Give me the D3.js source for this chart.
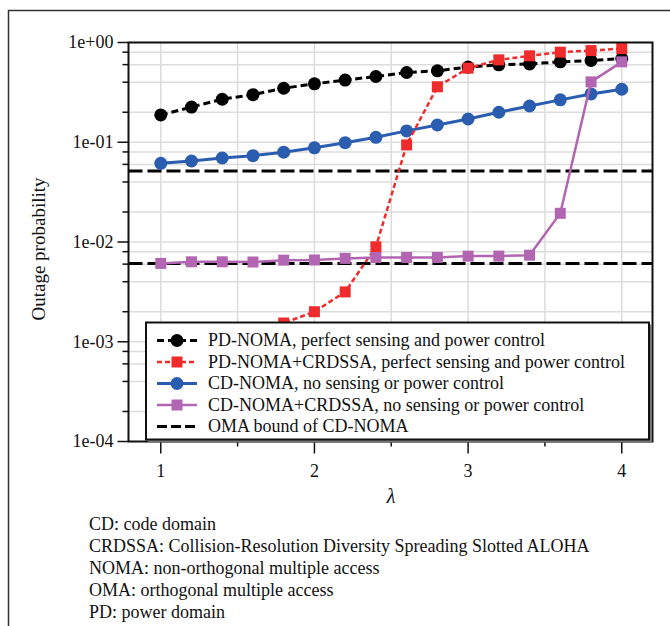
<!DOCTYPE html>
<html>
<head>
<meta charset="utf-8">
<script src="https://cdn.jsdelivr.net/npm/d3@7"></script>
<style>
  body { margin: 0; background: #fff; }
  text { font-family: "Liberation Serif", "DejaVu Serif", serif; fill: #111; }
</style>
</head>
<body>
<div id="chart"></div>
<script>
// x values (lambda)
var lambda = [1.0, 1.2, 1.4, 1.6, 1.8, 2.0, 2.2, 2.4, 2.6, 2.8, 3.0, 3.2, 3.4, 3.6, 3.8, 4.0];

// outage probability per series
var pdNoma = [0.188, 0.225, 0.27, 0.30, 0.348, 0.385, 0.42, 0.456, 0.50, 0.52, 0.567, 0.597, 0.61, 0.64, 0.66, 0.69];
var pdNomaCrdssa = [0.00045, 0.00058, 0.00075, 0.001, 0.00154, 0.002, 0.00316, 0.00895, 0.094, 0.36, 0.553, 0.67, 0.735, 0.80, 0.83, 0.87];
var cdNoma = [0.0615, 0.0649, 0.0695, 0.0734, 0.0795, 0.0880, 0.099, 0.112, 0.130, 0.149, 0.171, 0.200, 0.231, 0.266, 0.305, 0.340];
var cdNomaCrdssa = [0.0061, 0.00633, 0.00633, 0.0063, 0.00658, 0.0066, 0.00685, 0.0070, 0.0070, 0.0070, 0.00722, 0.00722, 0.00738, 0.0194, 0.403, 0.64];

// OMA bounds (horizontal lines)
var omaBounds = [0.0515, 0.0061];

var seriesNames = [
    'PD-NOMA, perfect sensing and power control',
    'PD-NOMA+CRDSSA, perfect sensing and power control',
    'CD-NOMA, no sensing or power control',
    'CD-NOMA+CRDSSA, no sensing or power control',
    'OMA bound of CD-NOMA'
];

// tick values and labels
var xTicks = [1, 2, 3, 4];
var xMinorTicks = [1.5, 2.5, 3.5];
var xGrid = [1, 1.5, 2, 2.5, 3, 3.5, 4];
var yTicks = [1e-4, 1e-3, 1e-2, 1e-1, 1];
var yTickLabels = ['1e-04', '1e-03', '1e-02', '1e-01', '1e+00'];
var yMinorMult = [2, 4, 6, 8];

var notes = [
    'CD: code domain',
    'CRDSSA: Collision-Resolution Diversity Spreading Slotted ALOHA',
    'NOMA: non-orthogonal multiple access',
    'OMA: orthogonal multiple access',
    'PD: power domain'
];

var width = 670, height = 626,
    plot = {left: 128.5, right: 652.5, top: 42.5, bottom: 441.5};

var svg = d3.select('#chart').append('svg')
    .attr('width', width)
    .attr('height', height);

// outer frame (top and left only)
svg.append('path')
    .attr('d', 'M8.5,626 L8.5,10.5 L670,10.5')
    .attr('fill', 'none')
    .attr('stroke', '#333')
    .attr('stroke-width', 1.5);

var x = d3.scaleLinear().domain([0.79, 4.2]).range([plot.left, plot.right]);
var y = d3.scaleLog().domain([1e-4, 1]).range([plot.bottom, plot.top]);

// minor y values
var yMinor = [];
yTicks.slice(0, -1).forEach(function (d) {
    yMinorMult.forEach(function (m) { yMinor.push(d * m); });
});

// grid
var grid = svg.append('g').attr('stroke', '#dcdcdc').attr('stroke-width', 1.5);
grid.selectAll('.gx').data(xGrid).enter().append('line')
    .attr('x1', function (d) { return x(d); })
    .attr('x2', function (d) { return x(d); })
    .attr('y1', plot.top).attr('y2', plot.bottom);
grid.selectAll('.gy').data(yTicks.concat(yMinor)).enter().append('line')
    .attr('y1', function (d) { return y(d); })
    .attr('y2', function (d) { return y(d); })
    .attr('x1', plot.left).attr('x2', plot.right);

// clip for data
svg.append('clipPath').attr('id', 'clip')
    .append('rect')
    .attr('x', plot.left).attr('y', plot.top)
    .attr('width', plot.right - plot.left).attr('height', plot.bottom - plot.top);

var data = svg.append('g').attr('clip-path', 'url(#clip)');

// OMA bounds
data.selectAll('.oma').data(omaBounds).enter().append('line')
    .attr('x1', plot.left).attr('x2', plot.right)
    .attr('y1', function (d) { return y(d); })
    .attr('y2', function (d) { return y(d); })
    .attr('stroke', '#000')
    .attr('stroke-width', 3)
    .attr('stroke-dasharray', '14,5');

var styles = [
    {values: pdNoma, color: '#000000', dash: '7,4', lw: 3, shape: 'circle'},
    {values: cdNoma, color: '#2a5db0', dash: null, lw: 3, shape: 'circle'},
    {values: pdNomaCrdssa, color: '#ef2b2b', dash: '5,3', lw: 2.5, shape: 'square'},
    {values: cdNomaCrdssa, color: '#b266b2', dash: null, lw: 2.5, shape: 'square'}
];

var line = d3.line()
    .x(function (d) { return x(d[0]); })
    .y(function (d) { return y(d[1]); });

function drawMarker(g, shape, color, cx, cy) {
    if (shape === 'circle') {
        g.append('circle').attr('cx', cx).attr('cy', cy).attr('r', 6.5).attr('fill', color);
    } else {
        g.append('rect').attr('x', cx - 5.5).attr('y', cy - 5.5)
            .attr('width', 11).attr('height', 11).attr('fill', color);
    }
}

styles.forEach(function (s) {
    var pts = lambda.map(function (l, i) { return [l, s.values[i]]; });
    var g = data.append('g');
    g.append('path')
        .attr('d', line(pts))
        .attr('fill', 'none')
        .attr('stroke', s.color)
        .attr('stroke-width', s.lw)
        .attr('stroke-dasharray', s.dash);
    pts.forEach(function (p) {
        drawMarker(g, s.shape, s.color, x(p[0]), y(p[1]));
    });
});

// plot box
svg.append('rect')
    .attr('x', plot.left).attr('y', plot.top)
    .attr('width', plot.right - plot.left).attr('height', plot.bottom - plot.top)
    .attr('fill', 'none').attr('stroke', '#111').attr('stroke-width', 2);

// y axis ticks
var yAxis = svg.append('g').attr('stroke', '#111').attr('stroke-width', 1.5);
yAxis.selectAll('.ymaj').data(yTicks).enter().append('line')
    .attr('x1', plot.left - 11).attr('x2', plot.left)
    .attr('y1', function (d) { return y(d); })
    .attr('y2', function (d) { return y(d); });
yAxis.selectAll('.ymin').data(yMinor).enter().append('line')
    .attr('x1', plot.left - 6).attr('x2', plot.left)
    .attr('y1', function (d) { return y(d); })
    .attr('y2', function (d) { return y(d); });

svg.selectAll('.ylab').data(yTicks).enter().append('text')
    .attr('x', plot.left - 15)
    .attr('y', function (d) { return y(d); })
    .attr('dy', '0.33em')
    .attr('text-anchor', 'end')
    .attr('font-size', 18)
    .text(function (d, i) { return yTickLabels[i]; });

// x axis ticks
var xAxis = svg.append('g').attr('stroke', '#111').attr('stroke-width', 1.5);
xAxis.selectAll('.xmaj').data(xTicks).enter().append('line')
    .attr('x1', function (d) { return x(d); })
    .attr('x2', function (d) { return x(d); })
    .attr('y1', plot.bottom).attr('y2', plot.bottom + 12);
xAxis.selectAll('.xmin').data(xMinorTicks).enter().append('line')
    .attr('x1', function (d) { return x(d); })
    .attr('x2', function (d) { return x(d); })
    .attr('y1', plot.bottom).attr('y2', plot.bottom + 5);

svg.selectAll('.xlab').data(xTicks).enter().append('text')
    .attr('x', function (d) { return x(d); })
    .attr('y', 477)
    .attr('text-anchor', 'middle')
    .attr('font-size', 18)
    .text(function (d) { return d; });

// axis titles
svg.append('text')
    .attr('x', 391).attr('y', 503)
    .attr('text-anchor', 'middle')
    .attr('font-size', 20)
    .attr('font-style', 'italic')
    .text('λ');

svg.append('text')
    .attr('transform', 'translate(45,249) rotate(-90)')
    .attr('text-anchor', 'middle')
    .attr('font-size', 19)
    .text('Outage probability');

// legend
var legend = svg.append('g');
legend.append('rect')
    .attr('x', 148).attr('y', 324.5)
    .attr('width', 504).attr('height', 118)
    .attr('fill', '#777');
legend.append('rect')
    .attr('x', 146).attr('y', 322.5)
    .attr('width', 503).attr('height', 117)
    .attr('fill', '#fff').attr('stroke', '#111').attr('stroke-width', 2);

var legendStyles = [styles[0], styles[2], styles[1], styles[3],
    {color: '#000', dash: '10,4', lw: 3, shape: null}];

seriesNames.forEach(function (name, i) {
    var s = legendStyles[i], cy = 340.5 + i * 21.5;
    var item = legend.append('g');
    item.append('line')
        .attr('x1', 157).attr('x2', 197)
        .attr('y1', cy).attr('y2', cy)
        .attr('stroke', s.color)
        .attr('stroke-width', s.lw)
        .attr('stroke-dasharray', s.dash);
    if (s.shape) drawMarker(item, s.shape, s.color, 177, cy);
    item.append('text')
        .attr('x', 208).attr('y', cy)
        .attr('dy', '0.33em')
        .attr('font-size', 18)
        .text(name);
});

// notes below chart
svg.selectAll('.note').data(notes).enter().append('text')
    .attr('x', 89)
    .attr('y', function (d, i) { return 530 + i * 22; })
    .attr('font-size', 18)
    .text(function (d) { return d; });
</script>
</body>
</html>
